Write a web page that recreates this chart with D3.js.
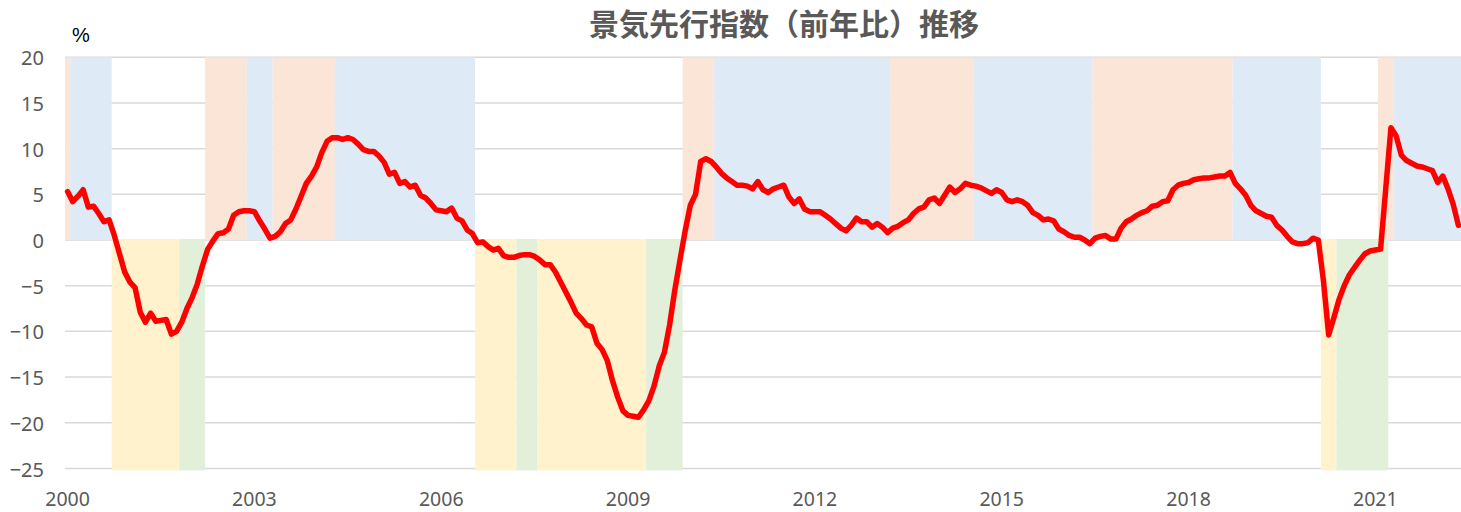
<!DOCTYPE html>
<html><head><meta charset="utf-8">
<script src="https://cdn.jsdelivr.net/npm/d3@7"></script>
<style>
html,body{margin:0;padding:0;background:#fff;}
svg{display:block;}
</style></head>
<body>
<svg id="chart" width="1461" height="512"></svg>
<script>
// ---- data ----
const title = "景気先行指数（前年比）推移";
const unitLabel = "%";
const startYear = 2000;
const monthCount = 269; // Jan 2000 – May 2022
const months = d3.range(monthCount).map(i => `${startYear + Math.floor(i/12)}-${String(i%12+1).padStart(2,"0")}`);

const leadingYoY = [
  5.3, 4.2, 4.8, 5.5, 3.6, 3.7, 2.9, 2.0, 2.2, 0.5, -1.5, -3.5,
  -4.6, -5.2, -7.9, -9.0, -8.0, -8.9, -8.8, -8.7, -10.3, -10.0, -9.0, -7.5,
  -6.3, -4.8, -2.8, -1.0, -0.1, 0.7, 0.8, 1.2, 2.7, 3.1, 3.2, 3.2,
  3.1, 2.1, 1.2, 0.2, 0.4, 0.9, 1.8, 2.2, 3.4, 4.8, 6.2, 7.0,
  8.0, 9.6, 10.8, 11.2, 11.2, 11.0, 11.2, 11.0, 10.5, 9.9, 9.7, 9.7,
  9.2, 8.5, 7.2, 7.4, 6.2, 6.4, 5.8, 6.0, 4.9, 4.6, 4.0, 3.3,
  3.2, 3.1, 3.5, 2.4, 2.1, 1.1, 0.7, -0.3, -0.2, -0.7, -1.1, -0.9,
  -1.7, -1.9, -1.9, -1.7, -1.6, -1.6, -1.8, -2.2, -2.7, -2.7, -3.5, -4.6,
  -5.7, -6.8, -8.0, -8.6, -9.3, -9.5, -11.3, -12.0, -13.2, -15.4, -17.2, -18.7,
  -19.2, -19.3, -19.4, -18.6, -17.6, -16.0, -13.8, -12.3, -9.3, -5.5, -2.2, 1.0,
  3.8, 5.0, 8.6, 8.9, 8.6, 8.0, 7.3, 6.8, 6.4, 6.0, 6.0, 5.9,
  5.6, 6.4, 5.5, 5.2, 5.6, 5.8, 6.0, 4.7, 4.0, 4.5, 3.4, 3.1,
  3.1, 3.1, 2.7, 2.3, 1.8, 1.3, 1.0, 1.6, 2.4, 2.0, 2.0, 1.4,
  1.8, 1.4, 0.8, 1.3, 1.5, 1.9, 2.2, 2.9, 3.4, 3.6, 4.4, 4.6,
  4.0, 4.9, 5.8, 5.2, 5.6, 6.2, 6.0, 5.9, 5.7, 5.4, 5.1, 5.5,
  5.2, 4.4, 4.2, 4.4, 4.2, 3.8, 3.0, 2.7, 2.2, 2.3, 2.1, 1.2,
  0.9, 0.5, 0.3, 0.3, 0.0, -0.4, 0.2, 0.4, 0.5, 0.1, 0.1, 1.3,
  2.0, 2.3, 2.7, 3.0, 3.2, 3.7, 3.8, 4.2, 4.3, 5.5, 6.0, 6.2,
  6.3, 6.6, 6.7, 6.8, 6.8, 6.9, 7.0, 7.0, 7.4, 6.2, 5.6, 4.9,
  3.8, 3.2, 2.9, 2.6, 2.5, 1.6, 1.1, 0.4, -0.2, -0.4, -0.4, -0.3,
  0.2, 0.0, -4.5, -10.4, -8.5, -6.5, -5.0, -3.8, -3.0, -2.2, -1.5, -1.2,
  -1.1, -1.0, 5.6, 12.3, 11.4, 9.3, 8.7, 8.4, 8.1, 8.0, 7.8, 7.6,
  6.3, 7.0, 5.6, 3.9, 1.6
];

// phase shading (columns): upper = positive phases (value 20), lower = negative phases (value -25)
const upperValue = 20;
const lowerValue = -25;
const upperStart = ["2000-01","2000-02","2002-04","2002-12","2003-05","2004-05","2009-12","2010-06","2013-04","2014-08","2016-07","2018-10","2021-02","2021-05"];
const upperEnd   = ["2000-01","2000-09","2002-11","2003-04","2004-04","2006-07","2010-05","2013-03","2014-07","2016-06","2018-09","2020-02","2021-04","2022-05"];
const upperType  = ["up","down","up","down","up","down","up","down","up","down","up","down","up","down"];
const lowerStart = ["2000-10","2001-11","2006-08","2007-04","2007-08","2009-05","2020-03","2020-06"];
const lowerEnd   = ["2001-10","2002-03","2007-03","2007-07","2009-04","2009-11","2020-05","2021-03"];
const lowerType  = ["down","up","down","up","down","up","down","up"];

const yTicks = [20, 15, 10, 5, 0, -5, -10, -15, -20, -25];
const xTickLabels = ["2000","2003","2006","2009","2012","2015","2018","2021"];

// ---- layout ----
const svg = d3.select("#chart");
const plotLeft = 65, plotRight = 1461, plotTop = 57.3, plotBottom = 468.4;
const x = d3.scaleBand().domain(months).range([plotLeft, plotRight]).paddingInner(0).paddingOuter(0);
const y = d3.scaleLinear().domain([-25, 20]).range([plotBottom, plotTop]);
const phaseColor = {
  upperup: "#FBE5D6", upperdown: "#DEEBF7",
  lowerdown: "#FFF2CC", lowerup: "#E2F0D9"
};
const numFont = "'Noto Sans', 'Liberation Sans', sans-serif";

// gridlines
svg.append("g").selectAll("line").data(yTicks).join("line")
  .attr("x1", plotLeft).attr("x2", plotRight)
  .attr("y1", d => y(d)).attr("y2", d => y(d))
  .attr("stroke", "#D9D9D9").attr("stroke-width", 1.5);

// bands
const bandEnd = m => x(m) + x.bandwidth();
const upperData = upperStart.map((s, i) => ({s, e: upperEnd[i], t: "upper" + upperType[i]}));
const lowerData = lowerStart.map((s, i) => ({s, e: lowerEnd[i], t: "lower" + lowerType[i]}));
svg.append("g").selectAll("rect").data(upperData).join("rect")
  .attr("x", d => x(d.s)).attr("width", d => bandEnd(d.e) - x(d.s))
  .attr("y", y(upperValue)).attr("height", y(0) - y(upperValue))
  .attr("fill", d => phaseColor[d.t]);
svg.append("g").selectAll("rect").data(lowerData).join("rect")
  .attr("x", d => x(d.s)).attr("width", d => bandEnd(d.e) - x(d.s))
  .attr("y", y(0) - 1).attr("height", y(lowerValue) - y(0) + 3)
  .attr("fill", d => phaseColor[d.t]);

// line
const line = d3.line()
  .x((d, i) => x(months[i]) + x.bandwidth() / 2)
  .y(d => y(d));
svg.append("path").datum(leadingYoY)
  .attr("d", line)
  .attr("fill", "none")
  .attr("stroke", "#FF0000")
  .attr("stroke-width", 5.5)
  .attr("stroke-linejoin", "round")
  .attr("stroke-linecap", "round");

// axes
const yAxis = d3.axisLeft(y).tickValues(yTicks).tickSize(0).tickPadding(21).tickFormat(d3.format("d"));
const gy = svg.append("g").attr("transform", `translate(${plotLeft},0)`).call(yAxis);
gy.select(".domain").remove();
gy.selectAll("text").attr("font-family", numFont).attr("font-size", 20).attr("fill", "#595959").attr("dy", "0.38em");

const xTickMonths = xTickLabels.map(yr => `${yr}-01`);
const xAxis = d3.axisBottom(x).tickValues(xTickMonths).tickSize(0).tickPadding(24).tickFormat(m => m.slice(0, 4));
const gx = svg.append("g").attr("transform", `translate(0,${plotBottom})`).call(xAxis);
gx.select(".domain").remove();
gx.selectAll("text").attr("font-family", numFont).attr("font-size", 19.5).attr("fill", "#595959");

// labels
svg.append("text").attr("x", 72).attr("y", 42).text(unitLabel)
  .attr("font-family", "'Liberation Sans', sans-serif").attr("font-size", 20).attr("fill", "#000");
svg.append("text").attr("x", 784).attr("y", 35).attr("text-anchor", "middle").text(title)
  .attr("font-family", "'Noto Sans CJK JP', sans-serif").attr("font-weight", "bold")
  .attr("font-size", 30).attr("fill", "#595959");
</script>
</body></html>
